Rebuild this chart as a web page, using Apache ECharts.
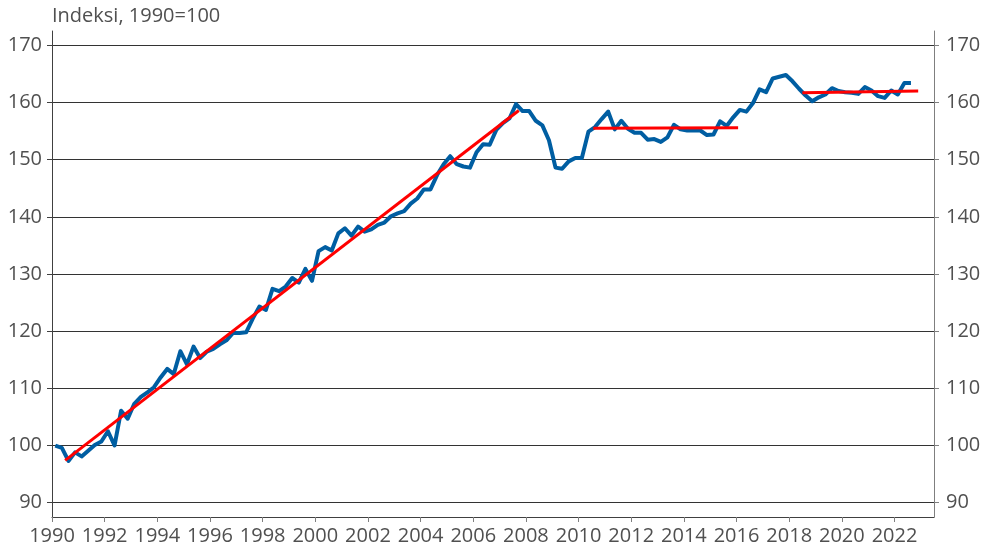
<!DOCTYPE html>
<html>
<head>
<meta charset="utf-8">
<script src="https://cdn.jsdelivr.net/npm/echarts@6/dist/echarts.min.js"></script>
<style>
  html, body { margin: 0; padding: 0; background: #fff; }
  #chart { width: 987px; height: 557px; }
</style>
</head>
<body>
<div id="chart"></div>
<script>
const title = 'Indeksi, 1990=100'

// quarterly index, first value = 1990Q1
const startYear = 1990
const indexValues = [
  100.0, 99.6, 97.3, 98.8, 98.1, 99.1, 100.1, 100.7, 102.5, 100.0, 106.1, 104.7, 107.3,
  108.5, 109.3, 110.2, 111.9, 113.4, 112.5, 116.5, 114.2, 117.3, 115.3, 116.4, 116.9, 117.7,
  118.4, 119.7, 119.7, 119.8, 122.2, 124.3, 123.7, 127.4, 127.0, 127.8, 129.3, 128.5,
  130.9, 128.8, 134.0, 134.7, 134.1, 137.1, 138.0, 136.7, 138.3, 137.4, 137.8, 138.6,
  139.0, 140.1, 140.6, 141.0, 142.3, 143.2, 144.8, 144.8, 147.3, 149.2, 150.6, 149.2,
  148.8, 148.6, 151.3, 152.7, 152.6, 155.2, 156.4, 157.2, 159.7, 158.5, 158.5, 156.8,
  156.0, 153.4, 148.6, 148.4, 149.7, 150.3, 150.3, 154.9, 155.7, 157.1, 158.4, 155.3,
  156.8, 155.4, 154.7, 154.7, 153.5, 153.6, 153.1, 153.9, 156.1, 155.3, 155.1, 155.1,
  155.1, 154.3, 154.4, 156.7, 155.9, 157.4, 158.7, 158.4, 159.9, 162.3,
  161.8, 164.2, 164.5, 164.8, 163.7, 162.4, 161.2, 160.2, 160.9, 161.4, 162.5, 162.0,
  161.8, 161.7, 161.5, 162.7, 162.1, 161.1, 160.8, 162.1, 161.4, 163.4, 163.4
]

// trend segments: [year, value]
const trendGrowth = [[1990.5, 97.4], [2007.73, 158.6]]
const trendFlat1 = [[2010.56, 155.5], [2016.06, 155.6]]
const trendFlat2 = [[2018.5, 161.7], [2022.9, 162.0]]

const xTicks = [1990, 1992, 1994, 1996, 1998, 2000, 2002, 2004, 2006, 2008, 2010, 2012, 2014, 2016, 2018, 2020, 2022]
const yTicks = [90, 100, 110, 120, 130, 140, 150, 160, 170]

const seriesData = indexValues.map((v, i) => [startYear + (i + 0.5) / 4, v])

const FONT = '"Open Sans", "Noto Sans", sans-serif'
const labelStyle = { color: '#505050', fontSize: 20, fontFamily: FONT, fontWeight: 'normal' }

function yAxis(position, lineColor, showSplit) {
  return {
    type: 'value',
    position,
    min: 87.5,
    max: 172.5,
    axisLine: { show: true, lineStyle: { color: lineColor, width: 1 } },
    axisTick: { show: true, customValues: yTicks, length: 5, lineStyle: { color: lineColor } },
    axisLabel: { ...labelStyle, customValues: yTicks, margin: position === 'left' ? 10 : 12 },
    splitLine: { show: showSplit, lineStyle: { color: '#333', width: 1 } }
  }
}

const trendLine = data => ({
  type: 'line',
  data,
  showSymbol: false,
  lineStyle: { color: '#ff0000', width: 3 },
  z: 3
})

const chart = echarts.init(document.getElementById('chart'), null, { renderer: 'canvas' })
chart.setOption({
  animation: false,
  title: {
    text: title,
    left: 47,
    top: 1,
    textStyle: { ...labelStyle }
  },
  grid: { left: 52, right: 53, top: 31, bottom: 40, containLabel: false },
  xAxis: {
    type: 'value',
    min: 1990,
    max: 2023.5,
    axisLine: { show: true, onZero: false, lineStyle: { color: '#404040' } },
    axisTick: { show: true, customValues: xTicks, length: 5, lineStyle: { color: '#7f7f7f' } },
    axisLabel: { ...labelStyle, customValues: xTicks, margin: 9, formatter: v => String(v) },
    splitLine: { show: false }
  },
  yAxis: [yAxis('left', '#404040', true), yAxis('right', '#7f7f7f', false)],
  series: [
    {
      type: 'line',
      data: seriesData,
      showSymbol: false,
      lineStyle: { color: '#005ea2', width: 4, join: 'round' },
      z: 2
    },
    trendLine(trendGrowth),
    trendLine(trendFlat1),
    trendLine(trendFlat2)
  ]
})
</script>
</body>
</html>
